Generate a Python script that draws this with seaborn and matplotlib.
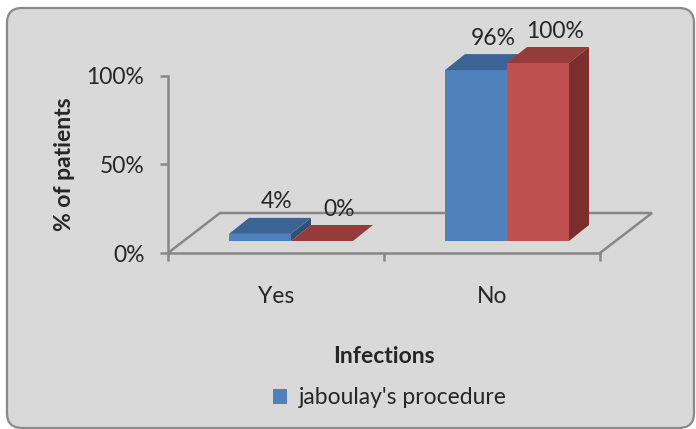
import matplotlib
matplotlib.use('Agg')
import matplotlib.pyplot as plt
import seaborn as sns
import pandas as pd
from matplotlib.patches import FancyBboxPatch, Polygon, Patch

# ---- data ----
categories = ["Yes", "No"]
series_names = ["jaboulay's procedure", "other procedure"]
jaboulay = [4, 96]
other = [0, 100]
y_ticks = [0, 50, 100]
y_tick_labels = ["0%", "50%", "100%"]

df = pd.DataFrame({
    "Infections": categories * 2,
    "Procedure": [series_names[0]] * 2 + [series_names[1]] * 2,
    "Percent": jaboulay + other,
})

sns.set_style("white")
plt.rcParams['font.family'] = ['Lato', 'DejaVu Sans']

W, H = 696, 429
fig = plt.figure(figsize=(W / 100, H / 100), dpi=100)
fig.patch.set_facecolor('white')

# rounded chart-area background
r = 15 / W
bg = FancyBboxPatch((7 / W, 1 / H), 687 / W, 420 / H,
                    boxstyle=f"round,pad=0,rounding_size={r}",
                    mutation_aspect=W / H,
                    transform=fig.transFigure, facecolor='#D9D9D9',
                    edgecolor='#8A8A8A', lw=1.6, zorder=-5)
fig.patches.append(bg)

FONT = 16.5
GREY = '#878787'
BLUE = ['#4F81BD', '#3B6394', '#2E4F78']   # front, top, side
RED = ['#C0504D', '#943C39', '#7A2F2D']

# ---- front (axis) plane ----
px_per_unit_x = 216.0
px_per_unit_y = 177.5 / 100
ax_f = fig.add_axes([168 / W, (H - 253) / H, 432 / W, 177.5 / H])
ax_f.set_xlim(-0.5, 1.5)
ax_f.set_ylim(0, 100)
ax_f.patch.set_alpha(0)
for s in ['top', 'right']:
    ax_f.spines[s].set_visible(False)
for s in ['left', 'bottom']:
    ax_f.spines[s].set_color(GREY)
    ax_f.spines[s].set_linewidth(1.8)
ax_f.set_yticks(y_ticks)
ax_f.set_yticklabels(y_tick_labels, fontsize=FONT)
ax_f.set_xticks([-0.5, 0.5, 1.5])
ax_f.set_xticklabels(['', '', ''])
ax_f.set_xticks([0, 1], minor=True)
ax_f.set_xticklabels(categories, minor=True, fontsize=FONT)
ax_f.tick_params(axis='y', which='major', direction='out', length=6, width=1.8,
                 color=GREY, pad=11, left=True)
ax_f.tick_params(axis='x', which='major', direction='out', length=6, width=1.8,
                 color=GREY, bottom=True)
ax_f.tick_params(axis='x', which='minor', length=0, pad=24)
ax_f.set_ylabel('% of patients', fontsize=FONT, fontweight='bold', labelpad=8)
ax_f.set_xlabel('Infections', fontsize=FONT, fontweight='bold', labelpad=28)

# floor outline (perspective)
fdx = 52 / px_per_unit_x
fdy = 40 / px_per_unit_y
ax_f.plot([-0.5, -0.5 + fdx, 1.5 + fdx, 1.5], [0, fdy, fdy, 0],
          color=GREY, lw=1.8, clip_on=False, zorder=1, solid_joinstyle='miter')

# ---- bar plane (set back) ----
ax_b = fig.add_axes([183 / W, (H - 241) / H, 432 / W, 178 / H])
ax_b.patch.set_alpha(0)
ax_b.set_axis_off()
sns.barplot(data=df, x="Infections", y="Percent", hue="Procedure",
            palette=[BLUE[0], RED[0]], width=0.574, saturation=1,
            ax=ax_b, legend=False, linewidth=0)
ax_b.set_xlim(-0.5, 1.5)
ax_b.set_ylim(0, 100)
ax_b.set_axis_off()

ddx = 20 / px_per_unit_x
ddy = 16 * 100 / 178
bars = list(ax_b.patches)
for i, p in enumerate(bars):
    x0 = p.get_x(); w = p.get_width(); h = p.get_height()
    fc = p.get_facecolor()
    cols = BLUE if fc[2] > fc[0] else RED
    z = 2 + i
    p.set_clip_on(False)
    p.set_zorder(z)
    side = Polygon([[x0 + w, 0], [x0 + w + ddx, ddy], [x0 + w + ddx, h + ddy], [x0 + w, h]],
                   closed=True, facecolor=cols[2], edgecolor='none', clip_on=False, zorder=z)
    top = Polygon([[x0, h], [x0 + ddx, h + ddy], [x0 + w + ddx, h + ddy], [x0 + w, h]],
                  closed=True, facecolor=cols[1], edgecolor='none', clip_on=False, zorder=z)
    ax_b.add_patch(side)
    ax_b.add_patch(top)

# data labels
for p in bars:
    x0 = p.get_x(); w = p.get_width(); h = p.get_height()
    ax_b.annotate(f"{h:.0f}%", xy=(x0 + w / 2, h), xytext=(17 * 0.72, 32 * 0.72),
                  textcoords='offset points', ha='center', va='center',
                  fontsize=FONT, annotation_clip=False, zorder=10)

# legend (only the first series shown, as in the reference)
handles = [Patch(facecolor=BLUE[0], edgecolor='none', label=series_names[0])]
fig.legend(handles=handles, loc='center', bbox_to_anchor=(390 / W, (H - 398) / H),
           frameon=False, fontsize=FONT, handlelength=0.6, handleheight=0.6,
           handletextpad=0.5)

fig.savefig('out.png', dpi=100)
